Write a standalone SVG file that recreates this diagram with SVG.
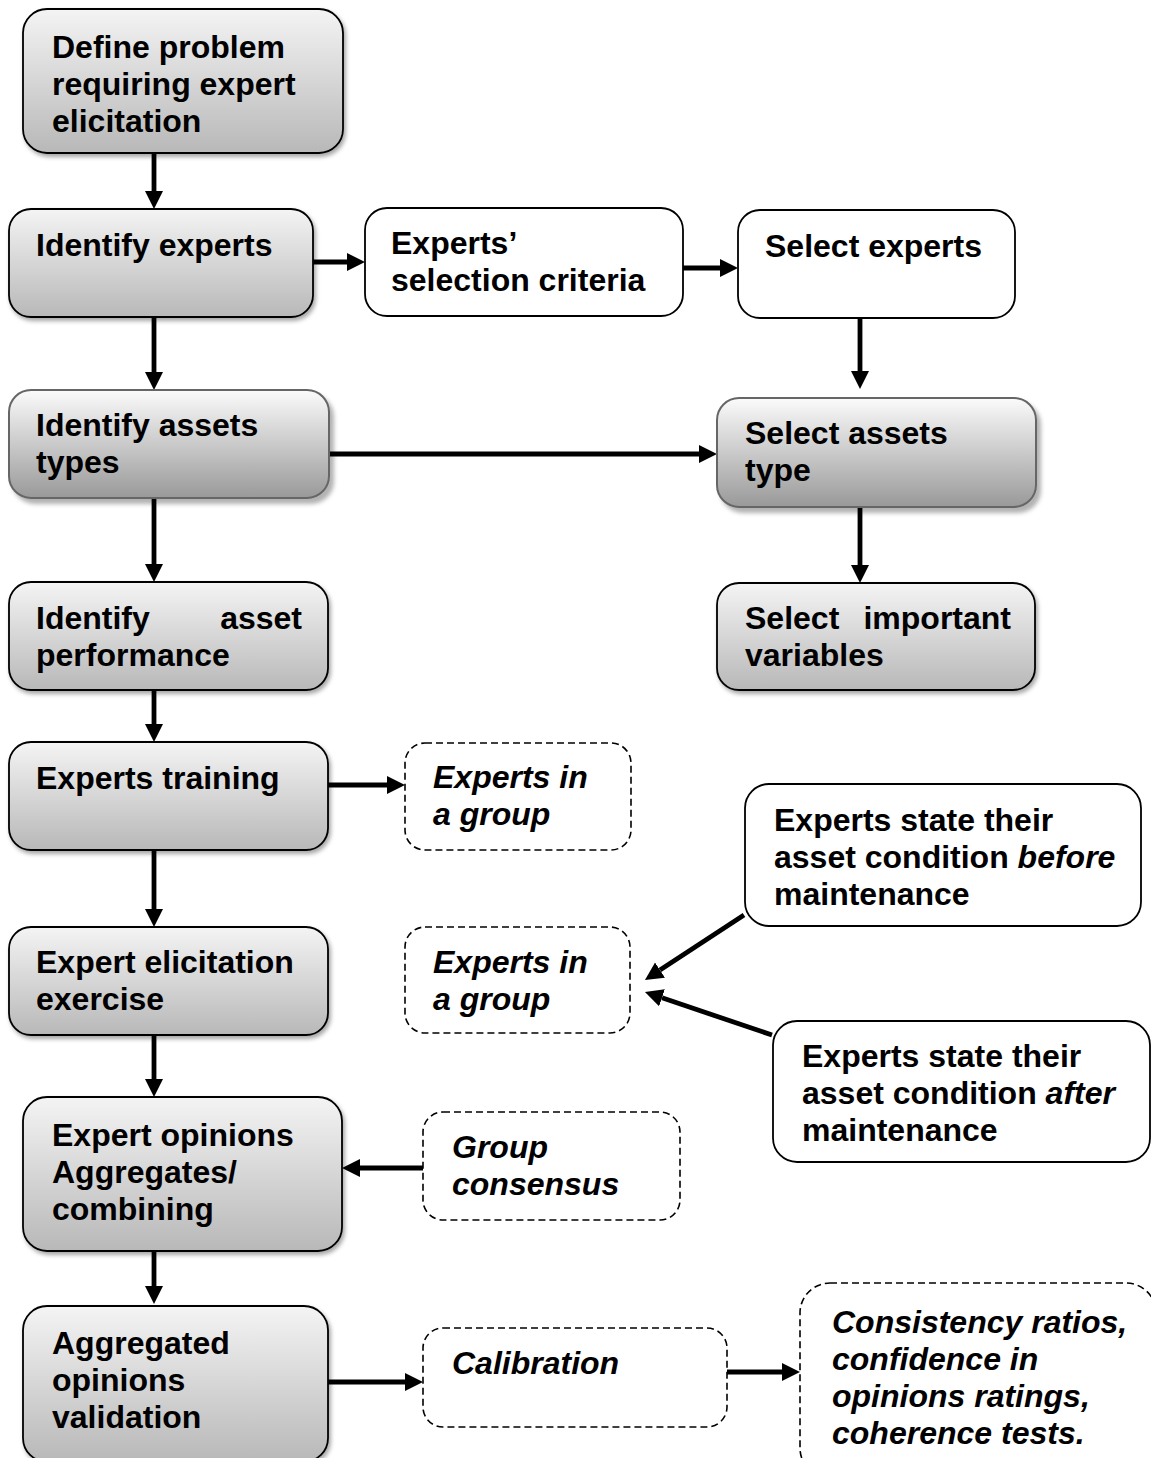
<svg xmlns="http://www.w3.org/2000/svg" width="1151" height="1458" viewBox="0 0 1151 1458">
  <defs>
    <linearGradient id="fillGrey" x1="0" y1="0" x2="0" y2="1">
      <stop offset="0" stop-color="#f4f4f4"/>
      <stop offset="1" stop-color="#b8b8b8"/>
    </linearGradient>
    <linearGradient id="fillGreyDark" x1="0" y1="0" x2="0" y2="1">
      <stop offset="0" stop-color="#fbfbfb"/>
      <stop offset="1" stop-color="#999999"/>
    </linearGradient>
    <filter id="shadow" x="-10%" y="-10%" width="125%" height="130%">
      <feDropShadow dx="2" dy="3" stdDeviation="2" flood-color="#000" flood-opacity="0.35"/>
    </filter>
    <filter id="shadowWide" x="-10%" y="-10%" width="125%" height="135%">
      <feDropShadow dx="4" dy="5" stdDeviation="2" flood-color="#000" flood-opacity="0.3"/>
    </filter>
    <marker id="head" markerUnits="userSpaceOnUse" markerWidth="19" markerHeight="19" refX="0" refY="9" orient="auto">
      <path d="M0,0 L18,9 L0,18 z" fill="#000"/>
    </marker>
    <style>
      .step { fill: url(#fillGrey); stroke: #000; stroke-width: 1.8; filter: url(#shadow); }
      .stepAlt { fill: url(#fillGreyDark); stroke: #666; stroke-width: 2; filter: url(#shadowWide); }
      .plain { fill: #fff; stroke: #000; stroke-width: 1.8; }
      .dashed { fill: #fff; stroke: #000; stroke-width: 1.6; stroke-dasharray: 7 4; }
      text { font-family: "Liberation Sans", Arial, sans-serif; font-size: 32px; font-weight: bold; fill: #000; }
      .it { font-style: italic; }
      #connectors line { stroke: #000; stroke-width: 4.8; marker-end: url(#head); }
    </style>
  </defs>

  <g id="connectors">
    <line x1="154" y1="153" x2="154" y2="191"/>
    <line x1="154" y1="317" x2="154" y2="372"/>
    <line x1="154" y1="498" x2="154" y2="564"/>
    <line x1="154" y1="690" x2="154" y2="724"/>
    <line x1="154" y1="850" x2="154" y2="909"/>
    <line x1="154" y1="1035" x2="154" y2="1079"/>
    <line x1="154" y1="1251" x2="154" y2="1286"/>
    <line x1="313" y1="262" x2="347" y2="262"/>
    <line x1="683" y1="268" x2="720" y2="268"/>
    <line x1="860" y1="318" x2="860" y2="371"/>
    <line x1="330" y1="454" x2="699" y2="454"/>
    <line x1="860" y1="507" x2="860" y2="565"/>
    <line x1="328" y1="785" x2="387" y2="785"/>
    <line x1="744" y1="915" x2="660" y2="970.1"/>
    <line x1="772" y1="1035" x2="662" y2="997.8"/>
    <line x1="423" y1="1168" x2="360" y2="1168"/>
    <line x1="328" y1="1382" x2="405" y2="1382"/>
    <line x1="727" y1="1372" x2="782" y2="1372"/>
  </g>

  <g id="define-problem">
    <rect class="step" x="23" y="9" width="320" height="144" rx="24"/>
    <text x="52" y="58">Define problem</text>
    <text x="52" y="95">requiring expert</text>
    <text x="52" y="132">elicitation</text>
  </g>

  <g id="identify-experts">
    <rect class="step" x="9" y="209" width="304" height="108" rx="22"/>
    <text x="36" y="256">Identify experts</text>
  </g>

  <g id="selection-criteria">
    <rect class="plain" x="365" y="208" width="318" height="108" rx="22"/>
    <text x="391" y="254">Experts’</text>
    <text x="391" y="291">selection criteria</text>
  </g>

  <g id="select-experts">
    <rect class="plain" x="738" y="210" width="277" height="108" rx="22"/>
    <text x="765" y="257">Select experts</text>
  </g>

  <g id="identify-assets-types">
    <rect class="stepAlt" x="9" y="390" width="320" height="108" rx="22"/>
    <text x="36" y="436">Identify assets</text>
    <text x="36" y="473">types</text>
  </g>

  <g id="select-assets-type">
    <rect class="stepAlt" x="717" y="398" width="319" height="109" rx="22"/>
    <text x="745" y="444">Select assets</text>
    <text x="745" y="481">type</text>
  </g>

  <g id="identify-asset-performance">
    <rect class="step" x="9" y="582" width="319" height="108" rx="22"/>
    <text x="36" y="629">Identify</text>
    <text x="302" y="629" text-anchor="end">asset</text>
    <text x="36" y="666">performance</text>
  </g>

  <g id="select-important-variables">
    <rect class="step" x="717" y="583" width="318" height="107" rx="22"/>
    <text x="745" y="629">Select</text>
    <text x="1011" y="629" text-anchor="end">important</text>
    <text x="745" y="666">variables</text>
  </g>

  <g id="experts-training">
    <rect class="step" x="9" y="742" width="319" height="108" rx="22"/>
    <text x="36" y="789">Experts training</text>
  </g>

  <g id="experts-group-1">
    <rect class="dashed" x="405" y="743" width="226" height="107" rx="20"/>
    <text class="it" x="433" y="788">Experts in</text>
    <text class="it" x="433" y="825">a group</text>
  </g>

  <g id="state-before">
    <rect class="plain" x="745" y="784" width="396" height="142" rx="24"/>
    <text x="774" y="831">Experts state their</text>
    <text x="774" y="868">asset condition <tspan class="it">before</tspan></text>
    <text x="774" y="905">maintenance</text>
  </g>

  <g id="elicitation-exercise">
    <rect class="step" x="9" y="927" width="319" height="108" rx="22"/>
    <text x="36" y="973">Expert elicitation</text>
    <text x="36" y="1010">exercise</text>
  </g>

  <g id="experts-group-2">
    <rect class="dashed" x="405" y="927" width="225" height="106" rx="20"/>
    <text class="it" x="433" y="973">Experts in</text>
    <text class="it" x="433" y="1010">a group</text>
  </g>

  <g id="state-after">
    <rect class="plain" x="773" y="1021" width="377" height="141" rx="24"/>
    <text x="802" y="1067">Experts state their</text>
    <text x="802" y="1104">asset condition <tspan class="it">after</tspan></text>
    <text x="802" y="1141">maintenance</text>
  </g>

  <g id="opinions-aggregation">
    <rect class="step" x="23" y="1097" width="319" height="154" rx="24"/>
    <text x="52" y="1146">Expert opinions</text>
    <text x="52" y="1183">Aggregates/</text>
    <text x="52" y="1220">combining</text>
  </g>

  <g id="group-consensus">
    <rect class="dashed" x="423" y="1112" width="257" height="108" rx="20"/>
    <text class="it" x="452" y="1158">Group</text>
    <text class="it" x="452" y="1195">consensus</text>
  </g>

  <g id="opinions-validation">
    <rect class="step" x="23" y="1306" width="305" height="156" rx="24"/>
    <text x="52" y="1354">Aggregated</text>
    <text x="52" y="1391">opinions</text>
    <text x="52" y="1428">validation</text>
  </g>

  <g id="calibration">
    <rect class="dashed" x="423" y="1328" width="304" height="99" rx="20"/>
    <text class="it" x="452" y="1374">Calibration</text>
  </g>

  <g id="consistency-tests">
    <rect class="dashed" x="800" y="1283" width="356" height="195" rx="30"/>
    <text class="it" x="832" y="1333">Consistency ratios,</text>
    <text class="it" x="832" y="1370">confidence in</text>
    <text class="it" x="832" y="1407">opinions ratings,</text>
    <text class="it" x="832" y="1444">coherence tests.</text>
  </g>
</svg>
